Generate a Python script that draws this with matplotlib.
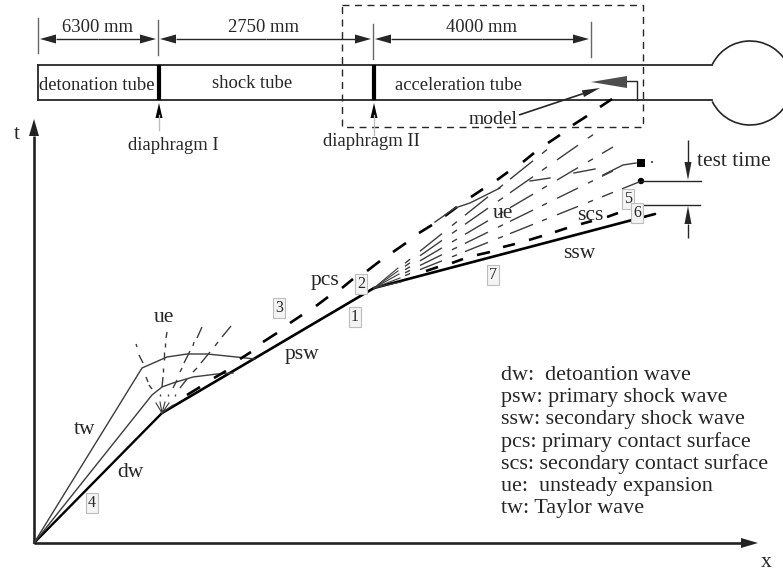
import numpy as np
import matplotlib
matplotlib.use("Agg")
import matplotlib.pyplot as plt
from matplotlib.patches import Polygon, Arc, Rectangle, Circle

plt.rcParams['font.family'] = ['Liberation Serif', 'DejaVu Serif']
INK = '#262626'
THIN = '#3c3c3c'
TEXT_DY = 2.5

# ---- schematic geometry (pixel frame) ----
tube_x = [38, 712]
tube_top = 65
tube_bottom = 100
diaphragm_x = [159, 374]
dim_y = 39
dim_ticks = [(38, 18, 53), (158, 20, 55), (373, 24, 59), (591, 22, 57)]
dim_labels = ["6300 mm", "2750 mm", "4000 mm"]
dim_label_x = [98, 263, 481]
tube_names = ["detonation tube", "shock tube", "acceleration tube"]
tube_name_x = [97, 252, 458]
tube_name_y = [83, 81, 83]

dw_x = [34, 162]; dw_y = [543, 413]
psw_x = [162, 374]; psw_y = [413, 288]
ssw_x = [374, 655]; ssw_y = [288, 214]
tw1_x = [34, 142, 167, 187, 207, 227, 255]
tw1_y = [543, 368, 357, 354, 354, 356, 359]
tw2_x = [34, 152, 162, 173, 193, 217, 233]
tw2_y = [543, 395, 387, 383, 377, 374, 373]

pcs_segments = [(187, 395, 200, 387), (214, 378, 226, 371), (240, 359, 251, 352),
                (263, 342, 277, 333), (290, 323, 302, 315), (316, 306, 328, 297),
                (342, 288, 353, 279), (367, 271, 380, 261), (393, 252, 406, 243),
                (419, 233, 432, 225), (445, 216, 457, 207), (471, 197, 483, 189),
                (497, 180, 508, 172), (523, 162, 534, 153), (548, 143, 560, 135),
                (573, 125, 587, 116), (600, 107, 612, 99)]
scs_segments = [(426, 271, 438, 267), (452, 263, 463, 259), (477, 255, 490, 252),
                (503, 247, 515, 244), (529, 240, 542, 236), (555, 232, 567, 228),
                (581, 224, 592, 221), (607, 217, 618, 213)]
ue1_segments = [(136, 344, 137, 347), (139, 355, 143, 363), (146, 377, 148, 382), (149, 385, 152, 389),
                (167, 332, 166, 338), (165, 343, 165, 347), (164, 352, 164, 360),
                (163, 368, 163, 372), (163, 377, 162, 387),
                (202, 327, 197, 338), (194, 342, 193, 346), (190, 351, 184, 363),
                (182, 368, 180, 372), (177, 380, 173, 388),
                (231, 326, 222, 337), (218, 342, 215, 346), (210, 352, 201, 363),
                (197, 368, 193, 372), (187, 379, 180, 388),
                (160, 394, 160, 396), (168, 394, 168, 396), (175, 394, 175, 396)]
fan1_tips_x = [156, 160, 165, 169, 173]
fan1_tips_y = [403, 402, 402, 403, 405]
fan2_tips_x = [398, 398, 399, 400, 401]
fan2_tips_y = [268, 271, 274, 278, 282]
ray_slopes = [0.80, 0.70, 0.59, 0.49, 0.40]
ray_end_x = [547, 593, 613, 613, 640]
dash_columns = [(405, 410), (420, 442), (452, 457), (465, 488), (498, 503),
                (510, 533), (542, 547), (557, 578), (588, 593), (602, 613), (622, 640)]
tail1_x = [435, 455, 470, 500]; tail1_y = [222, 208, 203, 188]
tail2_x = [530, 550]; tail2_y = [181, 178]
tail3_x = [574, 595]; tail3_y = [173, 169]
tail4_x = [603, 623, 636]; tail4_y = [175, 165, 163]

box_labels = ["1", "2", "3", "4", "5", "6", "7"]
box_x = [355, 361, 279, 92, 628, 637, 493]
box_y = [317, 284, 308, 503, 199, 213, 275]
curve_labels = ["t", "x", "ue", "tw", "dw", "psw", "pcs", "ue", "scs", "ssw"]
curve_label_x = [17, 766, 164, 85, 130, 302, 325, 503, 590, 579]
curve_label_y = [132, 560, 315, 427, 470, 352, 278, 211, 213, 251]
legend_rows = ["dw:  detoantion wave", "psw: primary shock wave", "ssw: secondary shock wave",
               "pcs: primary contact surface", "scs: secondary contact surface",
               "ue:  unsteady expansion", "tw: Taylor wave"]
legend_y = [373, 395, 417, 440, 462, 484, 506]

fig = plt.figure(figsize=(7.83, 5.74), dpi=100)
ax = fig.add_axes([0, 0, 1, 1])
ax.set_xlim(0, 783); ax.set_ylim(574, 0); ax.axis('off')


def seg(s, lw, color=THIN):
    ax.plot([s[0], s[2]], [s[1], s[3]], color=color, lw=lw, solid_capstyle='butt')


def label(x, y, s, size, ha='center'):
    ax.text(x, y + TEXT_DY, s, ha=ha, va='center', fontsize=size, color=INK)


def arrow(x0, y0, x1, y1, lw=1.0, hw=4.5, hl=16, color=INK):
    d = np.array([x1 - x0, y1 - y0], float)
    d /= np.hypot(*d)
    n = np.array([-d[1], d[0]])
    tip = np.array([x1, y1], float)
    base = tip - d * hl
    ax.plot([x0, base[0]], [y0, base[1]], color=color, lw=lw, solid_capstyle='butt')
    ax.add_patch(Polygon([tip, base + n * hw, base - n * hw], closed=True, fc=color, ec='none', zorder=3))


# tube
ax.plot(tube_x, [tube_top] * 2, color=INK, lw=1.3)
ax.plot(tube_x, [tube_bottom] * 2, color=INK, lw=1.3)
ax.plot([tube_x[0]] * 2, [tube_top, tube_bottom], color=INK, lw=1.3)
for x in diaphragm_x:
    ax.plot([x, x], [tube_top, tube_bottom], color='black', lw=3, solid_capstyle='butt')
ax.add_patch(Arc((750, 83), 84, 84, theta1=-154, theta2=154, color=INK, lw=1.2))

# dimension marks
for x, y0, y1 in dim_ticks:
    ax.plot([x, x], [y0, y1], color='#666666', lw=1.0)
for i in range(3):
    l, r = dim_ticks[i][0] + 2, dim_ticks[i + 1][0] - 2
    arrow((l + r) / 2, dim_y, l, dim_y, lw=1.0)
    arrow((l + r) / 2, dim_y, r, dim_y, lw=1.0)
    label(dim_label_x[i], 25, dim_labels[i], 13.4)
for n, x, y in zip(tube_names, tube_name_x, tube_name_y):
    label(x, y, n, 13.4)

# dashed window
ax.add_patch(Rectangle((342, 5), 301, 122, fc='none', ec=INK, lw=1.0, ls=(0, (5, 4))))

# model
ax.add_patch(Polygon([(591, 82), (627, 76), (627, 88)], closed=True, fc='#4d4d4d', ec='none'))
ax.plot([627, 637, 637], [81, 81, 100], color=INK, lw=1.0)
label(493, 117, "model", 14)
arrow(519, 115, 600, 88, lw=1.2, hw=3.5, hl=18)

# diaphragm labels
for x, yb, tx, ty, s in [(159, 130, 173, 143, "diaphragm I"), (374, 135, 371, 139, "diaphragm II")]:
    ax.plot([x, x], [115, yb], color='#bdbdbd', lw=1.0)
    ax.add_patch(Polygon([(x, 103), (x - 3.5, 118), (x + 3.5, 118)], closed=True, fc='black', ec='none'))
    label(tx, ty, s, 13.4)

# axes arrows
arrow(34, 543, 34, 119, lw=1.9, hw=5, hl=17, color='#222222')
arrow(34, 543, 758, 543, lw=1.9, hw=5, hl=17, color='#222222')

# wave lines
ax.plot(dw_x, dw_y, color='black', lw=1.7, solid_capstyle='round')
ax.plot(psw_x, psw_y, color='black', lw=1.9, solid_capstyle='round')
ax.plot(ssw_x, ssw_y, color='black', lw=1.9, solid_capstyle='round')
ax.plot(tw1_x, tw1_y, color=THIN, lw=1.0)
ax.plot(tw2_x, tw2_y, color=THIN, lw=1.0)
for s in pcs_segments:
    seg(s, 1.9, 'black')
for s in scs_segments:
    seg(s, 1.9, 'black')
for s in ue1_segments:
    seg(s, 1.0)
for tx, ty in zip(fan1_tips_x, fan1_tips_y):
    ax.plot([162, tx], [413, ty], color=THIN, lw=0.8)
for tx, ty in zip(fan2_tips_x, fan2_tips_y):
    ax.plot([374, tx], [288, ty], color=THIN, lw=0.8)
for slope, end in zip(ray_slopes, ray_end_x):
    for a, b in dash_columns:
        if b <= end:
            seg((a, 288 - slope * (a - 374), b, 288 - slope * (b - 374)), 1.0)
for xs, ys in [(tail1_x, tail1_y), (tail2_x, tail2_y), (tail3_x, tail3_y), (tail4_x, tail4_y)]:
    ax.plot(xs, ys, color=THIN, lw=1.0)

# end markers
ax.add_patch(Rectangle((637, 159), 8, 8, fc='black', ec='none'))
ax.add_patch(Circle((641, 181), 3.2, fc='black', ec='none'))
ax.add_patch(Circle((652, 162), 0.9, fc='black', ec='none'))

# test time
ax.plot([641, 701], [181, 181], color=INK, lw=1.0)
ax.plot([634, 700], [205, 205], color=INK, lw=1.0)
arrow(688, 140, 688, 180, lw=1.0, hw=3.5, hl=18)
arrow(688, 238, 688, 206, lw=1.0, hw=3.5, hl=18)
label(697, 159, "test time", 15.4, ha='left')

# boxed numbers
for s, x, y in zip(box_labels, box_x, box_y):
    ax.text(x, y, s, ha='center', va='center', fontsize=11.5, color=INK,
            bbox=dict(boxstyle='square,pad=0.1', fc='#f4f4f4', ec='#bdbdbd', lw=0.8))

for s, x, y in zip(curve_labels, curve_label_x, curve_label_y):
    label(x, y, s, 15.5)
for s, y in zip(legend_rows, legend_y):
    label(501, y, s, 15.9, ha='left')

fig.savefig("out.png", dpi=100)
